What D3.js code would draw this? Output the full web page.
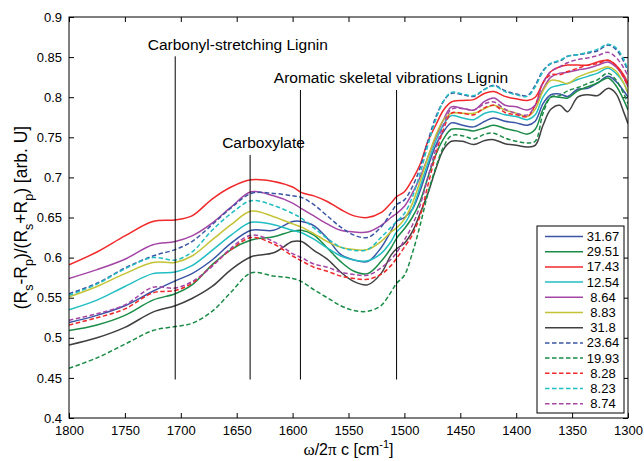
<!DOCTYPE html>
<html>
<head>
<meta charset="utf-8">
<script src="https://cdn.jsdelivr.net/npm/d3@7"></script>
<style>
  body { margin: 0; background: #fff; }
  text { font-family: "Liberation Sans", Arial, sans-serif; }
</style>
</head>
<body>
<div id="chart"></div>
<script>
// wavenumbers (cm^-1) where the curves were read
const wn = [1800, 1775, 1750, 1725, 1705, 1690, 1672, 1655, 1637, 1617, 1600, 1592, 1581, 1569, 1557, 1545, 1533, 1521, 1512, 1507,
            1500, 1493, 1486, 1479, 1472, 1465, 1458, 1448, 1438, 1428, 1420, 1410, 1400, 1390, 1383, 1376, 1369, 1361, 1354, 1345,
            1336, 1327, 1318, 1311, 1304, 1300];

// legend labels in order
const labels = ["31.67", "29.51", "17.43", "12.54", "8.64", "8.83", "31.8", "23.64", "19.93", "8.28", "8.23", "8.74"];

// series values
const s3167 = [.519, .528, .540, .558, .571, .580, .597, .618, .634, .634, .645, .645, .640, .624, .604, .597, .595, .612, .633, .645,
               .650, .660, .683, .713, .740, .757, .768, .765, .763, .770, .774, .770, .768, .765, .770, .792, .803, .804, .801, .810,
               .811, .818, .826, .820, .808, .800];
const s2951 = [.509, .516, .528, .547, .555, .566, .591, .610, .622, .626, .633, .634, .628, .612, .595, .583, .580, .595, .612, .624,
               .636, .650, .670, .700, .728, .748, .760, .760, .758, .762, .765, .761, .758, .754, .760, .785, .800, .800, .799, .808,
               .813, .818, .824, .815, .797, .784];
const s1743 = [.591, .607, .627, .645, .647, .652, .673, .688, .697, .695, .688, .681, .677, .670, .660, .652, .650, .656, .668, .676,
               .682, .697, .716, .745, .765, .784, .794, .796, .797, .805, .807, .801, .798, .796, .800, .818, .832, .838, .840, .840,
               .840, .844, .846, .840, .828, .817];
const s1254 = [.535, .547, .564, .580, .582, .590, .609, .628, .644, .641, .634, .631, .623, .612, .602, .597, .596, .605, .620, .632,
               .642, .660, .688, .718, .745, .766, .777, .774, .772, .780, .782, .778, .776, .772, .778, .800, .812, .815, .817, .822,
               .826, .830, .836, .830, .818, .805];
const s864 = [.574, .585, .598, .616, .620, .627, .643, .663, .682, .677, .668, .661, .652, .642, .634, .632, .632, .640, .650, .655,
              .664, .680, .700, .725, .750, .772, .788, .786, .784, .795, .799, .790, .788, .784, .790, .810, .825, .830, .831, .834,
              .836, .840, .844, .838, .825, .813];
const s883 = [.551, .564, .580, .594, .594, .602, .622, .641, .658, .651, .642, .638, .630, .620, .613, .610, .610, .620, .632, .637,
              .648, .667, .695, .725, .752, .772, .780, .780, .780, .786, .790, .784, .780, .776, .785, .808, .821, .820, .817, .825,
              .830, .834, .838, .833, .818, .805];
const s318 = [.491, .500, .513, .532, .540, .549, .564, .585, .601, .606, .620, .620, .609, .598, .582, .570, .566, .580, .603, .611,
              .618, .632, .655, .680, .710, .735, .745, .745, .741, .746, .747, .742, .740, .738, .740, .765, .785, .790, .782, .800,
              .803, .802, .811, .805, .782, .767];
const s2364 = [.555, .568, .587, .602, .610, .620, .641, .662, .680, .680, .677, .675, .666, .652, .638, .628, .625, .638, .656, .666,
               .672, .688, .712, .745, .775, .795, .805, .803, .801, .810, .815, .808, .804, .802, .815, .833, .842, .845, .851, .853,
               .855, .858, .865, .860, .845, .832];
const s1993 = [.462, .475, .492, .509, .514, .518, .533, .557, .581, .577, .574, .570, .560, .550, .540, .534, .533, .540, .557, .568,
               .578, .605, .640, .680, .712, .738, .752, .752, .748, .754, .755, .749, .745, .743, .745, .780, .800, .802, .808, .812,
               .817, .822, .830, .822, .805, .792];
const s828 = [.516, .525, .536, .556, .559, .568, .590, .610, .625, .617, .602, .596, .588, .583, .577, .574, .573, .579, .590, .599,
              .613, .628, .652, .690, .728, .760, .780, .780, .778, .787, .790, .781, .778, .776, .790, .818, .828, .828, .832, .836,
              .840, .842, .846, .840, .825, .813];
const s823 = [.553, .567, .586, .600, .597, .607, .634, .655, .671, .665, .655, .649, .637, .624, .613, .609, .610, .625, .638, .645,
              .655, .675, .705, .740, .772, .795, .806, .804, .802, .810, .814, .807, .803, .801, .813, .832, .842, .846, .851, .853,
              .856, .860, .866, .862, .848, .833];
const s874 = [.522, .530, .541, .563, .562, .570, .589, .612, .628, .620, .605, .600, .592, .588, .582, .579, .578, .587, .598, .606,
              .622, .640, .665, .700, .735, .765, .785, .786, .784, .792, .794, .785, .780, .778, .790, .818, .832, .838, .843, .847,
              .849, .852, .856, .850, .837, .826];

const seriesValues = [s3167, s2951, s1743, s1254, s864, s883, s318, s2364, s1993, s828, s823, s874];
const colors = ["#3a55a6", "#1a8c47", "#f0292b", "#22bec2", "#a446a6", "#c4c336", "#404040",
                "#3a55a6", "#1a8c47", "#f0292b", "#22bec2", "#a446a6"];
const dashed = [false, false, false, false, false, false, false, true, true, true, true, true];

// tick values
const xTicks = [1800, 1750, 1700, 1650, 1600, 1550, 1500, 1450, 1400, 1350, 1300];
const yTicks = [0.4, 0.45, 0.5, 0.55, 0.6, 0.65, 0.7, 0.75, 0.8, 0.85, 0.9];

// annotation lines: wavenumber, top value
const annotLines = [[1705, 0.851], [1638, 0.728], [1593, 0.809], [1507, 0.809]];
const annotBottom = 0.448;
// annotation texts: text, wavenumber (centre), value (baseline)
const annotTexts = [["Carbonyl-stretching Lignin", 1649, 0.859], ["Carboxylate", 1626, 0.737], ["Aromatic skeletal vibrations Lignin", 1512, 0.818]];

//1、size
const W = 644, H = 461;
const margin = { top: 17, right: 16, bottom: 43, left: 69 };
const width = W - margin.left - margin.right;
const height = H - margin.top - margin.bottom;

const svg = d3.select("#chart").append("svg")
    .attr("width", W).attr("height", H);
const g = svg.append("g").attr("transform", `translate(${margin.left},${margin.top})`);

//2、scales
const x = d3.scaleLinear().domain([1800, 1300]).range([0, width]);
const y = d3.scaleLinear().domain([0.4, 0.9]).range([height, 0]);

//3、axes (ticks inside, box like matlab)
const fmtY = d => String(+d.toFixed(2));
g.append("g").attr("transform", `translate(0,${height})`)
    .call(d3.axisBottom(x).tickValues(xTicks).tickSizeInner(-5).tickSizeOuter(0).tickPadding(8).tickFormat(d3.format("d")))
    .call(a => a.select(".domain").remove());
g.append("g")
    .call(d3.axisLeft(y).tickValues(yTicks).tickSizeInner(-5).tickSizeOuter(0).tickPadding(7).tickFormat(fmtY))
    .call(a => a.select(".domain").remove());
g.append("g")
    .call(d3.axisTop(x).tickValues(xTicks).tickSizeInner(-5).tickSizeOuter(0).tickFormat(""))
    .call(a => a.select(".domain").remove());
g.append("g").attr("transform", `translate(${width},0)`)
    .call(d3.axisRight(y).tickValues(yTicks).tickSizeInner(-5).tickSizeOuter(0).tickFormat(""))
    .call(a => a.select(".domain").remove());
g.selectAll(".tick text").attr("font-size", 13).attr("fill", "#000")
    .attr("font-family", "'Liberation Sans', Arial, sans-serif");
g.selectAll(".tick line").attr("stroke", "#000");

//4、curves
const line = d3.line()
    .x((d, i) => x(wn[i]))
    .y(d => y(d))
    .curve(d3.curveCatmullRom.alpha(0.5));

g.append("defs").append("clipPath").attr("id", "clip")
    .append("rect").attr("width", width).attr("height", height);

g.append("g").attr("clip-path", "url(#clip)")
    .selectAll("path")
    .data(seriesValues)
    .enter()
    .append("path")
    .attr("d", d => line(d))
    .attr("fill", "none")
    .attr("stroke", (d, i) => colors[i])
    .attr("stroke-width", 1.5)
    .attr("stroke-dasharray", (d, i) => dashed[i] ? "4.5,2.5" : null);

//5、annotations
g.selectAll(".annot")
    .data(annotLines)
    .enter()
    .append("line")
    .attr("x1", d => x(d[0])).attr("x2", d => x(d[0]))
    .attr("y1", d => y(d[1])).attr("y2", y(annotBottom))
    .attr("stroke", "#000").attr("stroke-width", 1);

g.selectAll(".annotText")
    .data(annotTexts)
    .enter()
    .append("text")
    .attr("x", d => x(d[1])).attr("y", d => y(d[2]))
    .attr("text-anchor", "middle")
    .attr("font-size", 15.5)
    .text(d => d[0]);

// box
g.append("rect").attr("width", width).attr("height", height)
    .attr("fill", "none").attr("stroke", "#000").attr("stroke-width", 1);

//6、legend
const lg = g.append("g").attr("transform", `translate(${width - 91},${height - 192})`);
lg.append("rect").attr("width", 87).attr("height", 187)
    .attr("fill", "#fff").attr("stroke", "#000").attr("stroke-width", 1);
const item = lg.selectAll(".item").data(labels).enter().append("g")
    .attr("transform", (d, i) => `translate(0,${10.5 + i * 15.2})`);
item.append("line").attr("x1", 8).attr("x2", 46).attr("y1", 0).attr("y2", 0)
    .attr("stroke", (d, i) => colors[i]).attr("stroke-width", 1.5)
    .attr("stroke-dasharray", (d, i) => dashed[i] ? "4.5,2.5" : null);
item.append("text").attr("x", 66).attr("y", 4.5).attr("text-anchor", "middle")
    .attr("font-size", 13).text(d => d);

//7、axis titles
const xt = svg.append("text").attr("x", margin.left + width / 2).attr("y", 455)
    .attr("text-anchor", "middle").attr("font-size", 16);
xt.append("tspan").attr("font-family", "'Liberation Serif', 'Times New Roman', serif").attr("font-size", 17).text("ω");
xt.append("tspan").text("/2");
xt.append("tspan").attr("font-family", "'Liberation Serif', 'Times New Roman', serif").attr("font-size", 17).text("π");
xt.append("tspan").text(" c [cm");
xt.append("tspan").attr("font-size", 11).attr("dy", -7).text("-1");
xt.append("tspan").attr("dy", 7).text("]");

const yt = svg.append("text")
    .attr("transform", `translate(27,${margin.top + height / 2}) rotate(-90)`)
    .attr("text-anchor", "middle").attr("font-size", 17.5);
const yParts = [["(R", 0], ["s", 1], ["-R", 0], ["p", 1], [")/(R", 0], ["s", 1], ["+R", 0], ["p", 1], [") [arb. U]", 0]];
let prevSub = 0;
yParts.forEach(p => {
    const dy = (p[1] - prevSub) * 6;
    yt.append("tspan").attr("dy", dy).attr("font-size", p[1] ? 12.5 : 17.5).text(p[0]);
    prevSub = p[1];
});
</script>
</body>
</html>
